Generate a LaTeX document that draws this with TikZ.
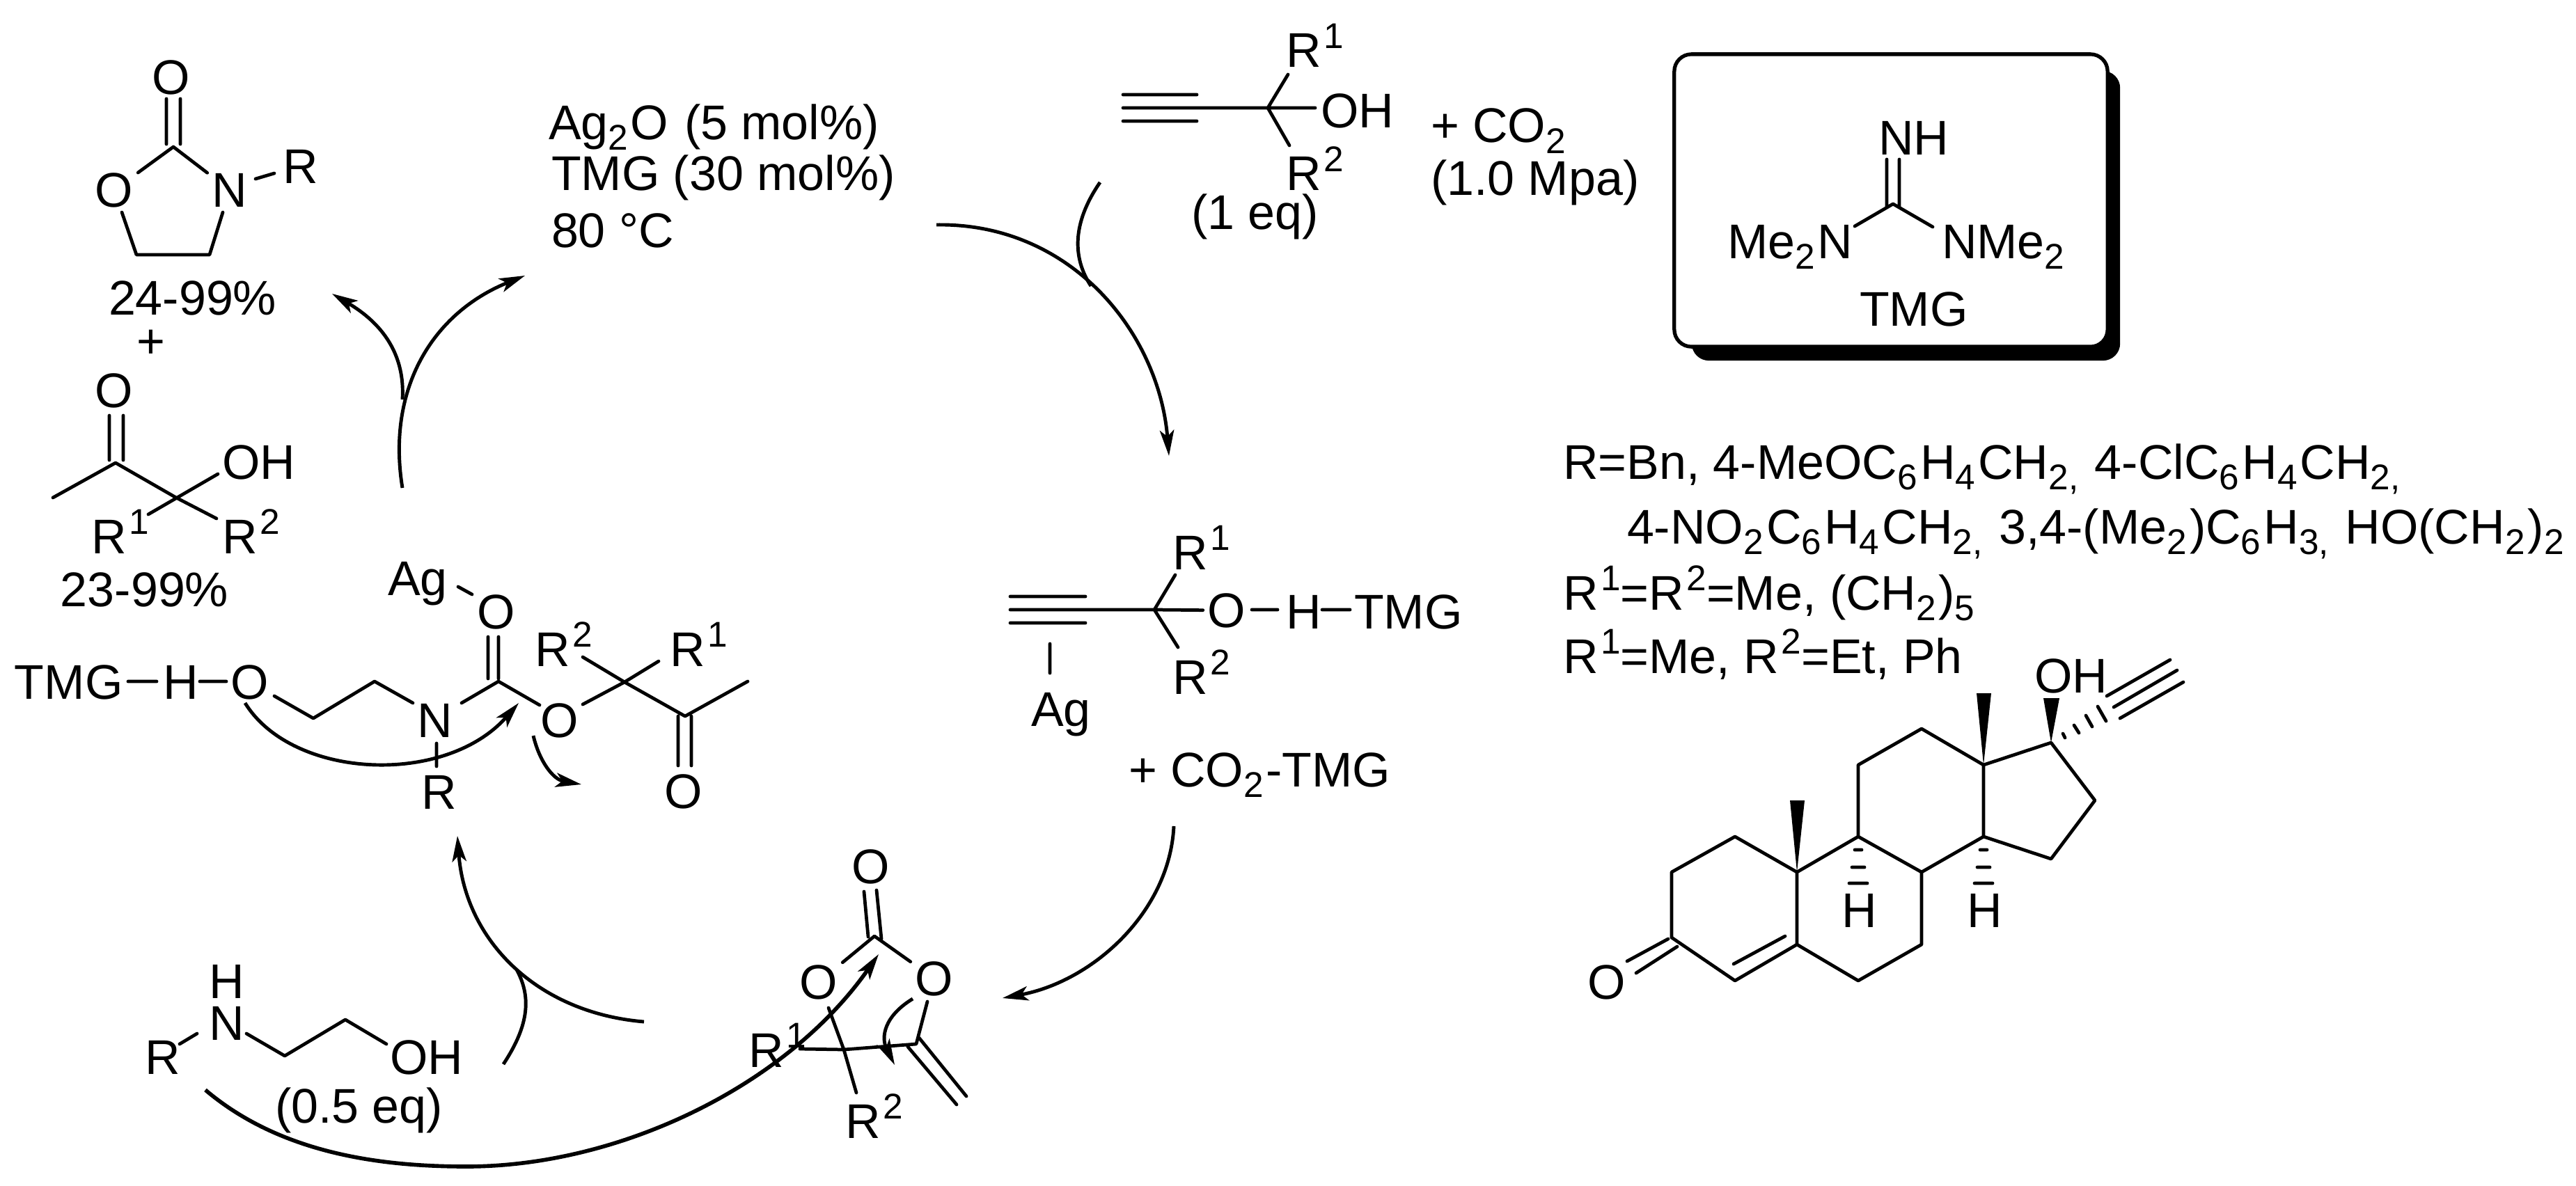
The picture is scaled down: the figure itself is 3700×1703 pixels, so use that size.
\documentclass[tikz,border=0pt]{standalone}
\usepackage{fontspec}
\setmainfont{Liberation Sans}
\usetikzlibrary{arrows.meta}
\newcommand\sbb[1]{\raisebox{-4.3pt}{\fontsize{14.6}{15}\selectfont #1}\kern1pt\relax}
\newcommand\sbc[1]{\raisebox{-4.3pt}{\fontsize{14.6}{15}\selectfont #1}\kern1.2pt\relax}
\newcommand\spp[1]{\kern1pt\raisebox{7.7pt}{\fontsize{14.6}{15}\selectfont #1}}
\newcommand\vtx[3]{\coordinate (#1) at (#2,#3);}
\tikzset{
  bond/.style={line width=1.35pt,line cap=round,line join=round},
  carrow/.style={line width=1.4pt,-{Stealth[length=10.5pt,width=5.8pt,inset=2.6pt]}},
  cline/.style={line width=1.4pt},
  lbl/.style={anchor=base west,inner sep=0pt,outer sep=0pt},
  atom/.style={inner sep=2pt,outer sep=0pt,text height=14.2pt,text depth=0pt,anchor=center},
}
\begin{document}
\begin{tikzpicture}[x=0.01cm,y=-0.01cm,font=\fontsize{19.9}{24}\selectfont]
\useasboundingbox (0,0) rectangle (3700,1703);
\fill[white] (0,0) rectangle (3700,1703);

%% ---- oxazolidinone product
\node[atom] (oxOt) at (246,111) {O};
\node[atom] (oxO) at (164,273) {O};
\node[atom] (oxN) at (330,273) {N};
\node[lbl] (oxR) at (406,264) {R};
\vtx{oxC}{249}{211}\vtx{oxa}{196}{366}\vtx{oxb}{301}{366}
\vtx{oxd1}{239}{142}\vtx{oxd2}{239}{207}\vtx{oxd3}{259}{142}\vtx{oxd4}{259}{207}
\vtx{oxr1}{367}{257}\vtx{oxr2}{394}{249}
\draw[bond] (oxd1)--(oxd2) (oxd3)--(oxd4) (oxC)--(oxO) (oxC)--(oxN) (oxO)--(oxa)--(oxb)--(oxN) (oxr1)--(oxr2);
\node[lbl] (y1) at (156,452) {24-99\%};
\node (plus1) at (217,494) {+};

%% ---- hydroxyketone product
\node[atom] (kO) at (164,561) {O};
\node[lbl] (kOH) at (319,688) {OH};
\node[lbl] (kR1) at (131,795) {R\spp{1}};
\node[lbl] (kR2) at (319,795) {R\spp{2}};
\node[lbl] (y2) at (87,871) {23-99\%};
\vtx{kC}{166}{665}\vtx{kMe}{76}{715}\vtx{kQ}{253}{715}\vtx{kh}{313}{681}\vtx{kr1}{213}{739}\vtx{kr2}{311}{745}
\vtx{kd1}{157}{597}\vtx{kd2}{157}{661}\vtx{kd3}{177}{597}\vtx{kd4}{177}{661}
\draw[bond] (kd1)--(kd2) (kd3)--(kd4) (kMe)--(kC)--(kQ)--(kr2) (kh)--(kr1);

%% ---- conditions
\node[lbl] (c1) at (788,200) {Ag\sbb{2}O\kern1pt{} (5 mol\%)};
\node[lbl] (c2) at (792,274) {TMG (30 mol\%)};
\node[lbl] (c3) at (792,355) {80 °C};

%% ---- top-left arrows
\vtx{a1s}{578}{701}\vtx{a1e}{754}{396}\vtx{a2s}{578}{574}\vtx{a2e}{477}{422}
\draw[carrow] (a1s) .. controls (555,560) and (620,450) .. (a1e);
\draw[carrow] (a2s) .. controls (582,510) and (550,465) .. (a2e);

%% ---- top alkynol
\node[lbl] (tOH) at (1897,183) {OH};
\node[lbl] (tR1) at (1847,97) {R\spp{1}};
\node[lbl] (tR2) at (1847,274) {R\spp{2}};
\node[lbl] (teq) at (1711,329) {(1 eq)};
\vtx{tC}{1821}{155}\vtx{t0}{1613}{155}\vtx{to}{1889}{155}\vtx{tr1}{1850}{107}\vtx{tr2}{1852}{209}
\vtx{t1a}{1613}{136}\vtx{t1b}{1719}{136}\vtx{t2a}{1613}{174}\vtx{t2b}{1719}{174}
\draw[bond] (t0)--(tC)--(to) (tr1)--(tC)--(tr2) (t1a)--(t1b) (t2a)--(t2b);
\node[lbl] (co2) at (2055,205) {+ CO\sbb{2}};
\node[lbl] (mpa) at (2055,281) {(1.0 Mpa)};

%% ---- top-right arrows
\vtx{a3s}{1345}{323}\vtx{a3e}{1679}{655}\vtx{a4s}{1580}{262}\vtx{a4e}{1567}{411}
\draw[carrow] (a3s) .. controls (1540,320) and (1665,480) .. (a3e);
\draw[cline] (a4s) .. controls (1540,320) and (1540,370) .. (a4e);

%% ---- TMG box
\node[fill=black,rounded corners=7pt,minimum width=6.15cm,minimum height=4.16cm,inner sep=0pt] (boxs) at (2737.5,310) {};
\node[draw,fill=white,line width=1.5pt,rounded corners=7pt,minimum width=6.22cm,minimum height=4.2cm,inner sep=0pt] (box) at (2716,288) {};
\node[lbl] (bNH) at (2698,222) {NH};
\node[lbl] (bNl) at (2481,371) {Me\sbb{2}N};
\node[lbl] (bNr) at (2789,371) {NMe\sbb{2}};
\node[lbl] (bT) at (2671,468) {TMG};
\vtx{bC}{2719}{293}\vtx{bl}{2664}{325}\vtx{br}{2776}{326}
\vtx{bd1}{2710}{229}\vtx{bd2}{2710}{298}\vtx{bd3}{2728}{229}\vtx{bd4}{2728}{298}
\draw[bond] (bd1)--(bd2) (bd3)--(bd4) (bl)--(bC)--(br);

%% ---- silver acetylide intermediate
\node[atom] (mO) at (1762,877) {O};
\node[lbl] (mH) at (1847,903) {H};
\node[lbl] (mT) at (1945,903) {TMG};
\node[lbl] (mR1) at (1684,818) {R\spp{1}};
\node[lbl] (mR2) at (1684,997) {R\spp{2}};
\node[lbl] (mAg) at (1481,1043) {Ag};
\node[lbl] (mCO) at (1621,1130) {+ CO\sbb{2}-TMG};
\vtx{mC}{1658}{876}\vtx{m0}{1451}{876}\vtx{mr1}{1688}{826}\vtx{mr2}{1692}{930}
\vtx{m1a}{1451}{857}\vtx{m1b}{1559}{857}\vtx{m2a}{1451}{895}\vtx{m2b}{1559}{895}
\vtx{mh1}{1798}{876}\vtx{mh2}{1835}{876}\vtx{mh3}{1899}{876}\vtx{mh4}{1939}{876}
\vtx{mg1}{1508}{925}\vtx{mg2}{1508}{967}
\draw[bond] (m0)--(mC)--(mO) (mr1)--(mC)--(mr2) (m1a)--(m1b) (m2a)--(m2b) (mh1)--(mh2) (mh3)--(mh4) (mg1)--(mg2);

%% ---- arrow to lactone
\vtx{a5s}{1686}{1187}\vtx{a5e}{1440}{1434}
\draw[carrow] (a5s) .. controls (1680,1310) and (1570,1410) .. (a5e);

%% ---- cyclic carbonate
\node[atom] (lOt) at (1251,1245) {O};
\node[atom] (lOl) at (1176,1411) {O};
\node[atom] (lOr) at (1342,1406) {O};
\node[lbl] (lR1) at (1075,1533) {R\spp{1}};
\node[lbl] (lR2) at (1214,1635) {R\spp{2}};
\vtx{lC}{1256}{1345}\vtx{lQ}{1212}{1508}\vtx{lA}{1149}{1507}\vtx{lV}{1316}{1500}
\vtx{lol}{1190}{1448}\vtx{lr2}{1230}{1570}\vtx{lor}{1332}{1439}
\vtx{ld1}{1241}{1281}\vtx{ld2}{1247}{1346}\vtx{ld3}{1259}{1279}\vtx{ld4}{1266}{1349}
\vtx{lv1}{1320}{1491}\vtx{lv2}{1388}{1575}\vtx{lv3}{1304}{1504}\vtx{lv4}{1374}{1587}
\draw[bond] (ld1)--(ld2) (ld3)--(ld4) (lOl)--(lC)--(lOr) (lol)--(lQ)--(lr2) (lA)--(lQ)--(lV)--(lor) (lv1)--(lv2) (lv3)--(lv4);
\vtx{a6s}{1311}{1435}\vtx{a6e}{1285}{1530}
\draw[carrow] (a6s) .. controls (1270,1460) and (1265,1490) .. (a6e);

%% ---- amino alcohol
\node[lbl] (aR) at (208,1543) {R};
\node[lbl] (aH) at (300,1434) {H};
\node[lbl] (aN) at (300,1494) {N};
\node[lbl] (aOH) at (560,1543) {OH};
\node[lbl] (aeq) at (395,1613) {(0.5 eq)};
\vtx{ar1}{258}{1500}\vtx{ar2}{283}{1485}\vtx{an1}{354}{1485}\vtx{an2}{409}{1517}\vtx{an3}{496}{1465}\vtx{an4}{555}{1500}
\draw[bond] (ar1)--(ar2) (an1)--(an2)--(an3)--(an4);

%% ---- big attack arrow
\vtx{a7s}{295}{1566}\vtx{a7m}{670}{1676}\vtx{a7e}{1262}{1371}
\draw[carrow,line width=1.6pt] (a7s) .. controls (400,1655) and (540,1676) .. (a7m) .. controls (890,1676) and (1130,1560) .. (a7e);

%% ---- arrows up to carbamate
\vtx{a8s}{925}{1468}\vtx{a8e}{657}{1201}\vtx{a9s}{723}{1529}\vtx{a9e}{742}{1393}
\draw[carrow] (a8s) .. controls (770,1455) and (668,1350) .. (a8e);
\draw[cline] (a9s) .. controls (762,1470) and (762,1430) .. (a9e);

%% ---- carbamate intermediate
\node[lbl] (eAg) at (557,855) {Ag};
\node[atom] (eOc) at (713,879) {O};
\node[lbl] (eT) at (21,1004) {TMG};
\node[lbl] (eH) at (234,1004) {H};
\node[atom] (eOh) at (359,980) {O};
\node[atom] (eN) at (625,1035) {N};
\node[atom] (eO) at (804,1035) {O};
\node[atom] (eOk) at (982,1137) {O};
\node[lbl] (eR) at (605,1162) {R};
\node[lbl] (eR2) at (768,957) {R\spp{2}};
\node[lbl] (eR1) at (962,957) {R\spp{1}};
\vtx{eag1}{658}{843}\vtx{eag2}{678}{854}
\vtx{ec1}{701}{915}\vtx{ec2}{701}{975}\vtx{ec3}{716}{915}\vtx{ec4}{716}{975}
\vtx{eC}{716}{979}\vtx{eh1}{184}{979}\vtx{eh2}{225}{979}\vtx{eh3}{287}{979}\vtx{eh4}{325}{979}
\vtx{ep1}{394}{1000}\vtx{ep2}{450}{1032}\vtx{ep3}{538}{979}\vtx{ep4}{593}{1010}\vtx{ep5}{663}{1010}
\vtx{eo1}{775}{1013}\vtx{eo2}{837}{1012}\vtx{eQ}{897}{980}\vtx{er2}{837}{944}\vtx{er1}{946}{950}
\vtx{eK}{984}{1029}\vtx{eMe}{1074}{979}\vtx{ek1}{974}{1029}\vtx{ek2}{974}{1100}\vtx{ek3}{993}{1029}\vtx{ek4}{993}{1100}
\vtx{enr1}{627}{1068}\vtx{enr2}{627}{1101}
\draw[bond] (eag1)--(eag2) (ec1)--(ec2) (ec3)--(ec4) (eh1)--(eh2) (eh3)--(eh4)
  (ep1)--(ep2)--(ep3)--(ep4) (ep5)--(eC)--(eo1) (eo2)--(eQ)--(eK)--(eMe) (er2)--(eQ)--(er1)
  (ek1)--(ek2) (ek3)--(ek4) (enr1)--(enr2);
\vtx{a10s}{352}{1010}\vtx{a10e}{745}{1010}\vtx{a11s}{766}{1057}\vtx{a11e}{835}{1127}
\draw[carrow] (a10s) .. controls (420,1120) and (640,1130) .. (a10e);
\draw[carrow] (a11s) .. controls (775,1095) and (795,1120) .. (a11e);

%% ---- R definitions
\node[lbl] (d1) at (2245,688) {R=Bn, 4-MeOC\sbc{6}H\sbc{4}CH\sbc{2,} 4-ClC\sbc{6}H\sbc{4}CH\sbc{2,}};
\node[lbl] (d2) at (2337,781) {4-NO\sbc{2}C\sbc{6}H\sbc{4}CH\sbc{2,} 3,4-(Me\sbc{2})C\sbc{6}H\sbc{3,} HO(CH\sbc{2})\sbc{2}};
\node[lbl] (d3) at (2245,876) {R\spp{1}=R\spp{2}=Me, (CH\sbb{2})\sbb{5}};
\node[lbl] (d4) at (2245,967) {R\spp{1}=Me, R\spp{2}=Et, Ph};

%% ---- steroid
\node[atom] (sO) at (2308,1411) {O};
\node[lbl] (sOH) at (2922,995) {OH};
\node[lbl] (sH1) at (2645,1332) {H};
\node[lbl] (sH2) at (2825,1332) {H};
\vtx{a}{2401}{1347}\vtx{b}{2401}{1253}\vtx{c}{2492}{1202}\vtx{d}{2581}{1253}\vtx{e}{2581}{1357}\vtx{f}{2492}{1409}
\vtx{g}{2669}{1202}\vtx{h}{2760}{1253}\vtx{i}{2760}{1357}\vtx{j}{2669}{1409}
\vtx{k}{2669}{1099}\vtx{l}{2760}{1047}\vtx{m}{2849}{1099}\vtx{n}{2849}{1202}
\vtx{o}{2946}{1067}\vtx{p}{3009}{1150}\vtx{q}{2946}{1234}
\vtx{so1}{2337}{1381}\vtx{so2}{2396}{1349}\vtx{so3}{2350}{1398}\vtx{so4}{2409}{1360}
\vtx{cc1}{2490}{1385}\vtx{cc2}{2564}{1345}
\draw[bond] (a)--(b)--(c)--(d)--(e)--(f)--(a) (d)--(g)--(h)--(i)--(j)--(e) (g)--(k)--(l)--(m)--(n)--(h)
  (m)--(o)--(p)--(q)--(n) (so1)--(so2) (so3)--(so4) (cc1)--(cc2);
\fill (d)--(2571,1150)--(2592,1150)--cycle;
\fill (m)--(2839,996)--(2860,996)--cycle;
\fill (o)--(2935,1003)--(2958,1003)--cycle;
\draw[bond] (2664,1221)--(2674,1221) (2660,1246)--(2678,1246) (2656,1269)--(2682,1269)
  (2844,1221)--(2854,1221) (2840,1246)--(2858,1246) (2836,1269)--(2862,1269)
  (2963,1054)--(2966,1060) (2979,1042)--(2986,1053) (2996,1028)--(3005,1044) (3013,1015)--(3025,1036)
  (3026,1000)--(3117,948) (3036,1016)--(3127,963) (3045,1032)--(3136,980);
\end{tikzpicture}
\end{document}
